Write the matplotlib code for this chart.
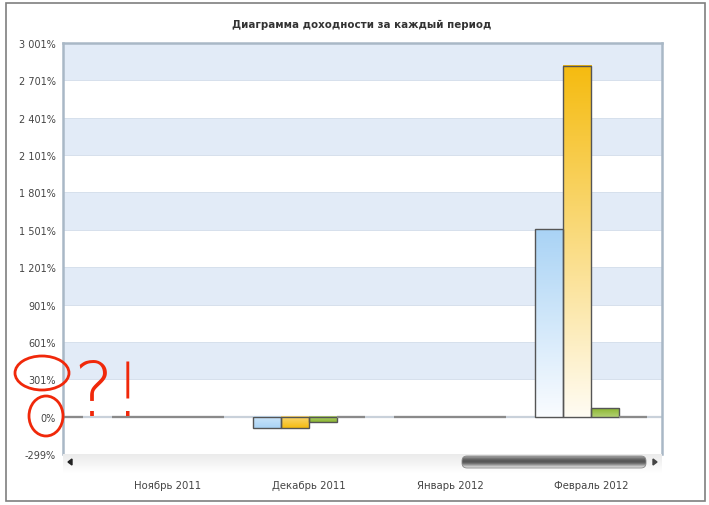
import numpy as np
import matplotlib
matplotlib.use("Agg")
import matplotlib.pyplot as plt
from matplotlib.patches import Rectangle, Ellipse, FancyBboxPatch, Polygon
from matplotlib.colors import to_rgb

# ---------------- data ----------------
categories = ["Октябрь 2011", "Ноябрь 2011", "Декабрь 2011", "Январь 2012", "Февраль 2012"]
cat_pos = [-1, 0, 1, 2, 3]
series_blue = [0, 0, -92, 0, 1508]
series_yellow = [0, 0, -92, 0, 2819]
series_green = [0, 0, -42, 0, 68]
series_gray = [0, 0, 0, 0, 0]
ytick_values = [-299, 1, 301, 601, 901, 1201, 1501, 1801, 2101, 2401, 2701, 3001]
ytick_labels = ["-299%", "0%", "301%", "601%", "901%", "1 201%", "1 501%", "1 801%",
                "2 101%", "2 401%", "2 701%", "3 001%"]
title = "Диаграмма доходности за каждый период"

# ---------------- figure ----------------
W, H = 709, 506
fig = plt.figure(figsize=(W / 100, H / 100), dpi=100)
fig.patch.set_facecolor("white")

def fx(px):
    return px / W

def fy(py):
    return 1 - py / H

ax_l, ax_r, ax_t, ax_b = 63, 662, 44, 455
ax = fig.add_axes([fx(ax_l), fy(ax_b), fx(ax_r - ax_l), (ax_b - ax_t) / H])
ax.set_facecolor("white")

# bands
for i in range(2, len(ytick_values) - 1, 2):
    lo, hi = ytick_values[i], ytick_values[i + 1]
    ax.axhspan(lo, hi, color="#E2EBF7", lw=0, zorder=0)
for v in ytick_values[2:-1]:
    ax.axhline(v, color="#D6E0EC", lw=0.7, zorder=0.5)
ax.axhline(0, color="#C9D1DA", lw=1.6, zorder=1)

bar_w = 0.2
offsets = [-0.3, -0.1, 0.1, 0.3]
series = [series_blue, series_yellow, series_green, series_gray]
full_cols = ["#A9D3F5", "#F5BB0F", "#8AB630", "#888888"]
pale_cols = ["#FAFCFF", "#FFFCF3", "#E6F2C6", "#CCCCCC"]

x = np.array(cat_pos, dtype=float)
for s, off, fc, pc in zip(series, offsets, full_cols, pale_cols):
    bars = ax.bar(x + off, s, width=bar_w, facecolor="none",
                  edgecolor="#555555", linewidth=1.0, zorder=3)
    c_full = np.array(to_rgb(fc))
    c_pale = np.array(to_rgb(pc))
    for rect, v in zip(bars, s):
        if v == 0:
            rect.set_edgecolor("#8A8A8A")
            rect.set_linewidth(1.6)
            continue
        x0 = rect.get_x()
        w = rect.get_width()
        ymin, ymax = min(0, v), max(0, v)
        start = c_pale if abs(v) > 300 else 0.45 * c_pale + 0.55 * c_full
        t = np.linspace(0, 1, 256)[:, None]
        sfrac = t if v > 0 else 1 - t
        img = start[None, :] * (1 - sfrac) + c_full[None, :] * sfrac
        ax.imshow(img[:, None, :], extent=(x0, x0 + w, ymin, ymax),
                  origin="lower", aspect="auto", zorder=2, interpolation="bilinear")

ax.set_yticks(ytick_values)
ax.set_yticklabels(ytick_labels)
ax.set_xticks(cat_pos)
ax.set_xticklabels(categories)
ax.set_xlim(-0.745, 3.504)
ax.set_ylim(-299, 3001)
ax.tick_params(axis="y", length=0, pad=5, labelsize=7, labelcolor="#444444")
ax.tick_params(axis="x", length=0, pad=19, labelsize=7.3, labelcolor="#444444")
for sp in ["left", "top", "right"]:
    ax.spines[sp].set_color("#A9B8C6")
    ax.spines[sp].set_linewidth(1.8)
ax.spines["bottom"].set_visible(False)
for lab in ax.get_yticklabels() + ax.get_xticklabels():
    lab.set_family("DejaVu Sans")

fig.text(fx(362), fy(25), title, ha="center", va="center", fontsize=7.4,
         fontweight="bold", color="#333333")

# ---------------- scrollbar ----------------
sb = fig.add_axes([fx(ax_l), fy(474), fx(ax_r - ax_l), 19 / H])
sb.axis("off")
g = np.linspace(0.92, 1.0, 64)[:, None]
sb.imshow(np.dstack([g, g, g]), extent=(ax_l, ax_r, 474, 455), aspect="auto",
          interpolation="bilinear", zorder=0)
sb.add_patch(Polygon([[68, 463], [72, 460], [72, 466]], closed=True, color="#222222", zorder=3))
sb.add_patch(Polygon([[657, 463], [653, 460], [653, 466]], closed=True, color="#444444", zorder=3))
thumb = FancyBboxPatch((462, 457), 184, 12, boxstyle="round,pad=0,rounding_size=5",
                       facecolor="none", edgecolor="#888888", lw=0.6, zorder=3)
sb.add_patch(thumb)
tg = np.array([0.62, 0.52, 0.42, 0.36, 0.34, 0.38, 0.48, 0.62, 0.76, 0.86])[:, None]
im = sb.imshow(np.dstack([tg, tg, tg]), extent=(462, 646, 469, 457), aspect="auto",
               interpolation="bilinear", zorder=2)
im.set_clip_path(thumb)
sb.set_xlim(ax_l, ax_r)
sb.set_ylim(474, 455)

# ---------------- outer frame ----------------
fig.patches.append(Rectangle((fx(6), fy(502)), fx(699), (502 - 4) / H,
                             transform=fig.transFigure, fill=False,
                             edgecolor="#7F7F7F", lw=1.2, zorder=10))

# ---------------- red hand annotations ----------------
ov = fig.add_axes([0, 0, 1, 1], facecolor="none", zorder=20)
ov.set_xlim(0, W)
ov.set_ylim(H, 0)
ov.axis("off")
ov.add_patch(Ellipse((42, 374), 54, 34, fill=False, edgecolor="#F0280A", lw=2.0))
ov.add_patch(Ellipse((46, 417), 34, 40, fill=False, edgecolor="#F0280A", lw=2.0))
ov.text(108, 395, "?!", color="#F0280A", fontsize=54, ha="center", va="center",
        fontweight="light", family="DejaVu Sans")

fig.savefig("out.png", dpi=100)
